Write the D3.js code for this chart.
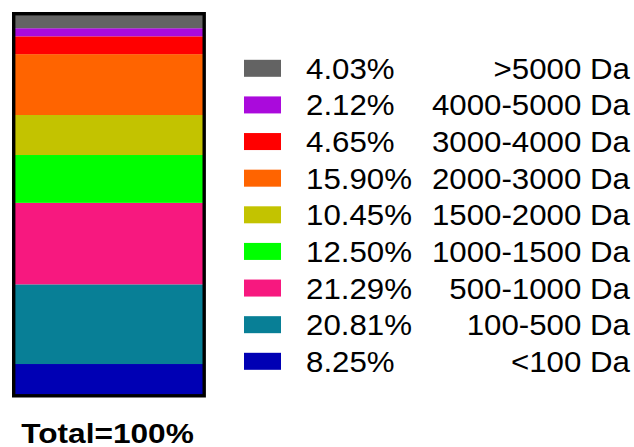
<!DOCTYPE html>
<html>
<head>
<meta charset="utf-8">
<script src="https://cdn.jsdelivr.net/npm/d3@7"></script>
<style>
  html, body { margin: 0; padding: 0; background: #fff; }
  svg { display: block; }
  text { font-family: "Liberation Sans", Arial, Helvetica, sans-serif; fill: #000; }
</style>
</head>
<body>
<svg id="chart" width="634" height="447"></svg>
<script>
// Molecular weight distribution, stacked bottom-up
const categories = ["<100 Da", "100-500 Da", "500-1000 Da", "1000-1500 Da", "1500-2000 Da",
                    "2000-3000 Da", "3000-4000 Da", "4000-5000 Da", ">5000 Da"];
const percents = [8.25, 20.81, 21.29, 12.50, 10.45, 15.90, 4.65, 2.12, 4.03];
const percentLabels = ["8.25%", "20.81%", "21.29%", "12.50%", "10.45%", "15.90%", "4.65%", "2.12%", "4.03%"];
const colors = ["#0000B4", "#087F96", "#F7187F", "#00FF00", "#C3C300",
                "#FF6400", "#FF0000", "#AA0ADC", "#636363"];
const totalLabel = "Total=100%";

const svg = d3.select("#chart");

const barLeft = 13.7, barRight = 204.2;
const y = d3.scaleLinear().domain([0, 100]).range([395.6, 12.8]);

// cumulative stack
const rows = categories.map((c, i) => ({ cat: c, value: percents[i], label: percentLabels[i], color: colors[i] }));
let acc = 0;
rows.forEach(r => { r.y0 = acc; acc += r.value; r.y1 = acc; });

svg.append("g").selectAll("rect")
  .data(rows)
  .join("rect")
  .attr("x", barLeft)
  .attr("width", barRight - barLeft)
  .attr("y", d => y(d.y1))
  .attr("height", d => y(d.y0) - y(d.y1))
  .attr("fill", d => d.color);

// bar outline
svg.append("rect")
  .attr("x", barLeft).attr("y", 13.7)
  .attr("width", barRight - barLeft).attr("height", 395.8 - 13.7)
  .attr("fill", "none").attr("stroke", "#000").attr("stroke-width", 3.4);

// legend, top to bottom
const legendOrder = rows.slice().reverse();
const ly = d3.scalePoint().domain(legendOrder.map(d => d.cat)).range([68.3, 361.3]);

const lg = svg.append("g");
lg.selectAll("rect")
  .data(legendOrder)
  .join("rect")
  .attr("x", 244).attr("width", 37)
  .attr("y", d => ly(d.cat) - 8.5).attr("height", 17)
  .attr("fill", d => d.color);

const fs = 29.5, sx = 1.06;
lg.selectAll("g.pct")
  .data(legendOrder)
  .join("g").attr("class", "pct")
  .attr("transform", d => `translate(306,${ly(d.cat) + 10.5}) scale(${sx},1)`)
  .append("text")
  .attr("font-size", fs)
  .text(d => d.label);

lg.selectAll("g.cat")
  .data(legendOrder)
  .join("g").attr("class", "cat")
  .attr("transform", d => `translate(630,${ly(d.cat) + 10.5}) scale(${sx},1)`)
  .append("text")
  .attr("font-size", fs)
  .attr("text-anchor", "end")
  .text(d => d.cat);

// total caption
svg.append("g")
  .attr("transform", `translate(107.5,443) scale(1.13,1)`)
  .append("text")
  .attr("font-size", 28)
  .attr("font-weight", "bold")
  .attr("text-anchor", "middle")
  .text(totalLabel);
</script>
</body>
</html>
